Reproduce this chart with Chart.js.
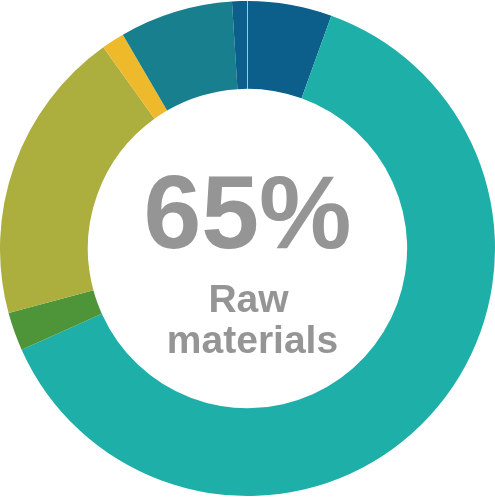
<!DOCTYPE html>
<html>
<head>
<meta charset="utf-8">
<script src="https://cdn.jsdelivr.net/npm/chart.js@4.4.0/dist/chart.umd.min.js"></script>
<style>
  html, body { margin: 0; padding: 0; background: #fff; }
  #wrap { width: 495px; height: 497px; }
</style>
</head>
<body>
<div id="wrap"><canvas id="grafica"></canvas></div>
<script>
// segmentos en sentido horario desde las 12
const categorias = ['Energy A', 'Raw materials', 'Other B', 'Other C', 'Other D', 'Other E', 'Energy B'];
const valores = [5.5, 62.8, 2.5, 19.3, 1.5, 7.4, 1.0];
const colores = ['#0b5f8a', '#1eafa9', '#4e953a', '#acae3e', '#efb92c', '#177f8e', '#0b5f8a'];
const textoGrande = '65%';
const textoLineas = ['Raw', 'materials'];

const textoCentro = {
    id: 'textoCentro',
    afterDatasetsDraw(chart) {
        const ctx = chart.ctx;
        const arc0 = chart.getDatasetMeta(0).data[0];
        // linea fina entre los dos azules
        ctx.save();
        ctx.strokeStyle = 'rgba(190,215,230,0.8)';
        ctx.lineWidth = 1;
        const a = arc0.startAngle;
        ctx.beginPath();
        ctx.moveTo(arc0.x + Math.cos(a) * arc0.innerRadius, arc0.y + Math.sin(a) * arc0.innerRadius);
        ctx.lineTo(arc0.x + Math.cos(a) * arc0.outerRadius, arc0.y + Math.sin(a) * arc0.outerRadius);
        ctx.stroke();

        const cx = arc0.x, cy = arc0.y;
        ctx.fillStyle = '#959595';
        ctx.textAlign = 'center';
        ctx.textBaseline = 'alphabetic';
        ctx.font = 'bold 104px "Liberation Sans", Arial, sans-serif';
        ctx.fillText(textoGrande, cx, cy - 1);
        ctx.font = 'bold 39px "Liberation Sans", Arial, sans-serif';
        ctx.fillText(textoLineas[0], cx + 1, cy + 63);
        ctx.fillText(textoLineas[1], cx + 5, cy + 104);
        ctx.restore();
    }
};

new Chart(document.getElementById('grafica').getContext('2d'), {
    type: 'doughnut',
    data: {
        labels: categorias,
        datasets: [{
            data: valores,
            backgroundColor: colores,
            borderWidth: 0
        }]
    },
    options: {
        responsive: true,
        maintainAspectRatio: false,
        animation: false,
        cutout: '64.5%',
        layout: { padding: 0 },
        plugins: {
            legend: { display: false },
            tooltip: { enabled: false }
        }
    },
    plugins: [textoCentro]
});
</script>
</body>
</html>
